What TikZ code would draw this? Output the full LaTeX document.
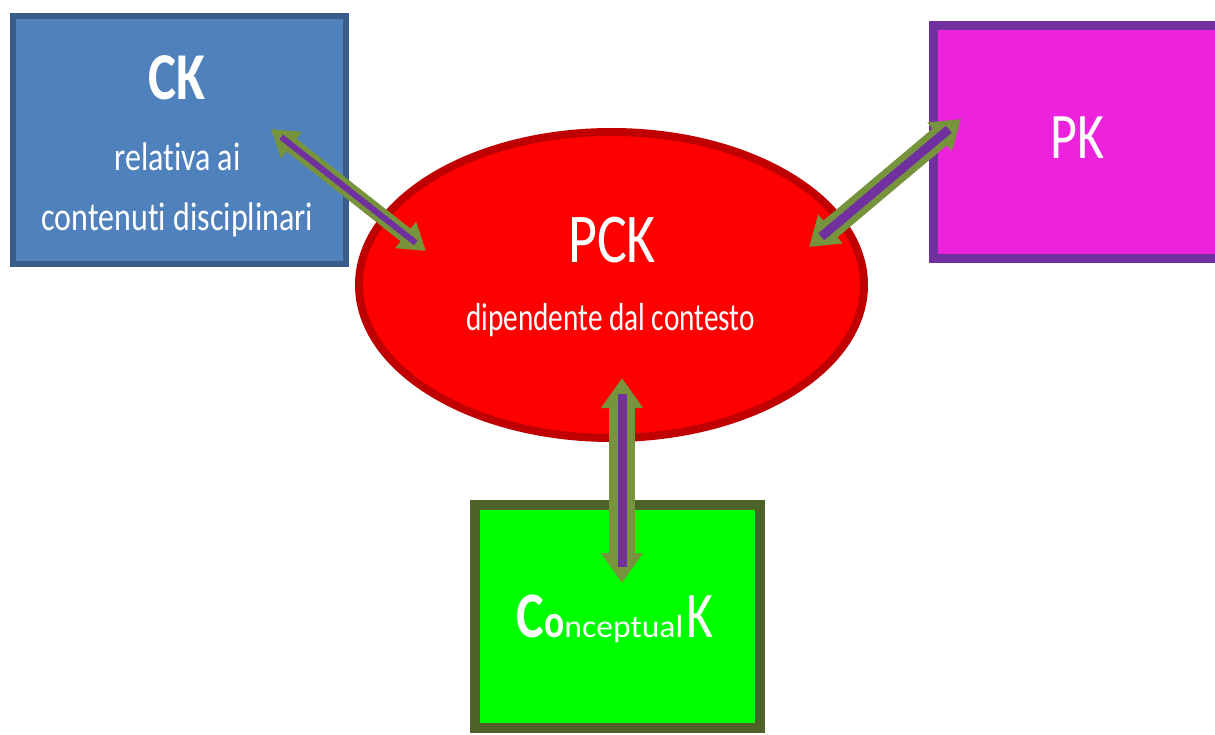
\documentclass[tikz,border=0pt]{standalone}
\usepackage{fontspec}
\setmainfont{Carlito}[Ligatures=NoCommon]
\usetikzlibrary{arrows.meta,shapes.geometric}
\definecolor{ckfill}{HTML}{4F81BD}
\definecolor{ckline}{HTML}{385D8A}
\definecolor{pkfill}{HTML}{EC22DC}
\definecolor{pkline}{HTML}{7030A0}
\definecolor{pckfill}{HTML}{FF0000}
\definecolor{pckline}{HTML}{C00000}
\definecolor{cofill}{HTML}{00FF00}
\definecolor{coline}{HTML}{4F6228}
\definecolor{arrgreen}{HTML}{77933C}
\definecolor{arrpurple}{HTML}{7030A0}
\newcommand\txt[3]{{\fontsize{#1}{#1}\selectfont\scalebox{#2}[1]{#3}}}
\begin{document}
\begin{tikzpicture}[x=1pt,y=-1pt,
  boxnode/.style={rectangle,inner sep=0pt,outer sep=0pt},
  lbl/.style={anchor=base,inner sep=0pt,text=white},
  greenarr/.style={draw=arrgreen,line width=#1},
  purpline/.style={draw=arrpurple,line width=#1}]
\useasboundingbox (0,0) rectangle (1215,735);
\clip (0,0) rectangle (1215,735);
% boxes
\node[boxnode,draw=ckline,fill=ckfill,line width=6pt,minimum width=333pt,minimum height=248pt] (ck) at (179.5,140) {};
\node[boxnode,draw=pkline,fill=pkfill,line width=9pt,minimum width=296.5pt,minimum height=233pt] (pk) at (1081.75,142) {};
\node[boxnode,draw=coline,fill=cofill,line width=10pt,minimum width=285pt,minimum height=223pt] (co) at (617.5,616.5) {};
\node[ellipse,inner sep=0pt,outer sep=0pt,draw=pckline,fill=pckfill,line width=8pt,minimum width=505pt,minimum height=306pt] (pck) at (611.5,285) {};
% labels
\node[lbl] (cktitle) at (176.5,100) {\txt{67}{0.79}{\bfseries CK}};
\node[lbl] (cktext1) at (177.5,171) {\txt{40}{0.8}{relativa ai}};
\node[lbl] (cktext2) at (177.5,231) {\txt{40}{0.8}{contenuti disciplinari}};
\node[lbl] (pktitle) at (1077.5,159) {\txt{65}{0.8}{PK}};
\node[lbl] (pcktitle) at (612,263) {\txt{70}{0.8}{PCK}};
\node[lbl] (pcktext) at (610.5,330) {\txt{39}{0.75}{dipendente dal contesto}};
\node[lbl] (cotitle) at (615,637) {\txt{65}{0.8}{\bfseries C}\txt{47}{0.8}{\bfseries o}\txt{32}{1.05}{nceptual}\hspace{3pt}\txt{65}{0.8}{K}};
% arrow end points
\coordinate (l1) at (271,129);
\coordinate (l2) at (426,251);
\coordinate (r1) at (961,119);
\coordinate (r2) at (809,247);
\coordinate (b1) at (622,378);
\coordinate (b2) at (622,583);
% arrows
\draw[greenarr=16pt,{Triangle[width=32pt,length=26pt]}-{Triangle[width=32pt,length=26pt]}] (l1) -- (l2);
\draw[purpline=6pt,shorten <=13pt,shorten >=13pt] (l1) -- (l2);
\draw[greenarr=22pt,{Triangle[width=36pt,length=28pt]}-{Triangle[width=36pt,length=28pt]}] (r1) -- (r2);
\draw[purpline=9pt,shorten <=16pt,shorten >=16pt] (r1) -- (r2);
\draw[greenarr=26pt,{Triangle[width=40pt,length=30pt]}-{Triangle[width=40pt,length=30pt]}] (b1) -- (b2);
\draw[purpline=9pt,shorten <=16pt,shorten >=16pt] (b1) -- (b2);
\end{tikzpicture}
\end{document}
